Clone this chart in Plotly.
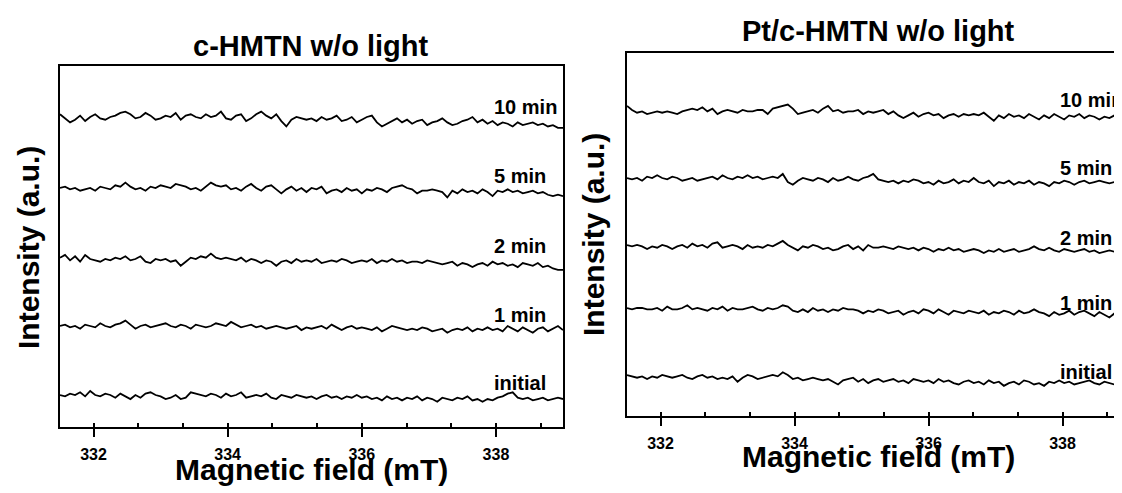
import numpy as np
import plotly.graph_objects as go

# ---------------- data ----------------
field = np.round(np.linspace(331.5, 339.0, 101), 4)  # magnetic field grid (mT)
labels = ["10 min", "5 min", "2 min", "1 min", "initial"]

# c-HMTN w/o light (deviations, a.u.)
c_10min = [2, -1, -4, -2, 1, -3, 0, 2, -1, -2,
           0, 1, 3, 4, 2, -1, 0, 3, 1, -2,
           -1, 1, 0, 3, -2, 1, 2, 0, -1, 2,
           0, 1, 4, -1, -2, 1, 2, -3, -1, 2,
           4, 1, -1, 2, -3, -7, -2, 0, -1, -2,
           -1, -3, 0, -2, -1, 1, -3, -2, 0, -4,
           -2, 0, 1, -4, -7, -5, -3, -1, -4, -2,
           -5, -3, -2, -6, -4, -3, -1, -4, -6, -5,
           -3, -2, 0, -4, -2, -5, -3, -6, -4, -5,
           -7, -4, -6, -5, -4, -6, -5, -7, -6, -8, -8]
c_5min = [0, 1, -1, 0, -2, -1, 0, -2, 1, 0,
          -1, 2, 1, 4, 1, -1, 0, -2, 1, 0,
          2, 1, 0, 3, 2, 1, -1, 0, -2, 1,
          4, 2, 1, 2, -1, 0, -2, 1, 3, 0,
          -2, 1, 2, -1, -4, -1, 1, -2, 0, -3,
          0, -1, 1, -4, -2, -1, -3, 0, -2, -1,
          -4, -1, -2, 0, -1, -3, 0, 1, 2, 0,
          -1, -4, -2, -2, -1, -2, -3, -7, -2, -4,
          -1, -3, -2, -4, -1, -3, -6, -2, -3, -1,
          -3, -2, -4, -3, -2, -4, -3, -5, -6, -5, -6]
c_2min = [1, 3, -1, 2, -2, 3, 0, -1, -2, 0,
          -1, 1, 0, 2, -1, 0, 2, -2, -3, 0,
          -1, 0, -2, -1, -5, -2, 1, 0, 2, 1,
          4, 1, 0, 1, 0, -1, 1, -2, 0, -1,
          -3, -1, -2, -5, -2, -1, -3, 0, -2, -1,
          -2, 0, -3, -2, -1, -2, 0, -1, -3, -2,
          -1, -2, 0, -3, -1, -2, 0, -2, -1, -3,
          -2, -2, -3, -1, -2, -3, -4, -3, -2, -5,
          -3, -4, -6, -4, -3, -5, -2, -4, -3, -5,
          -4, -6, -3, -4, -5, -3, -6, -5, -7, -8, -8]
c_1min = [0, 1, -1, 0, -2, 1, 0, -1, 2, 0,
          -1, 1, 2, 4, 1, -2, 0, 1, -1, 0,
          1, 2, 0, -1, 1, 0, -2, 1, 0, -1,
          0, 2, 1, 0, 3, 1, -1, 0, 1, -1,
          0, -2, -1, 0, -1, -2, -1, 0, -3, -1,
          -2, -1, 0, -2, 1, -1, -3, -1, 0, -2,
          -1, -2, -3, -1, -4, -2, 0, -1, -2, -3,
          -2, -3, -1, -2, -4, -3, -2, -5, -3, -2,
          -3, -1, -4, -2, -3, -1, -3, -2, -4, 0,
          -2, -4, -1, -3, -5, -2, -1, -4, -2, 0, -3]
c_initial = [0, -1, 1, 0, 2, -1, 3, 0, -1, 1,
             0, -2, 1, -1, -3, 0, -2, 1, 2, 0,
             -1, -3, -2, 0, -3, -2, 2, 1, 0, -1,
             1, 0, -2, 1, -1, 0, 2, -2, -1, 0,
             -1, 1, -2, -3, 0, -1, -2, 0, -1, -2,
             -1, -3, -1, 0, -2, -1, -3, -1, -2, 0,
             -2, -1, -3, -2, -4, -1, -3, -2, -4, -2,
             -3, -1, -4, -2, -3, -5, -2, -3, -4, -2,
             -3, -1, -4, -3, -5, -3, -4, -2, -1, 1,
             2, -2, -3, -2, -4, -3, -2, -4, -3, -2, -3]

# Pt/c-HMTN w/o light (deviations, a.u.)
pt_10min = [3, 0, -2, -1, -3, -2, -1, -2, -1, -2,
            -3, -1, 0, 1, 0, 2, -1, 1, -3, -1,
            0, -1, -2, 0, -1, -1, 0, 0, -3, 1,
            2, 3, 4, 1, -3, -2, -1, 0, -2, 1,
            3, -1, 0, -2, -1, -1, 0, -3, -1, -2,
            -1, 0, -3, -1, -4, -6, -4, -2, -5, -3,
            -2, -4, -3, -6, -4, -3, -5, -3, -4, -3,
            -4, -2, -5, -8, -4, -6, -3, -5, -4, -6,
            -3, -5, -7, -4, -6, -3, -5, -7, -4, -5,
            -3, -6, -4, -5, -7, -5, -6, -4, -6, -5, -6]
pt_5min = [0, -1, 0, -2, 1, 0, 2, 0, -1, 1,
           0, -2, -1, 0, -2, -1, 0, 1, -1, 2,
           0, -1, 1, 0, 2, 0, 1, -1, 0, 1,
           0, 3, -3, -5, -2, 0, -1, -2, 0, -1,
           -3, 0, -2, -1, 1, -1, -2, 0, 1, 3,
           -1, -2, -3, -2, -4, -2, -3, -1, -2, -4,
           -3, -5, -2, -4, -3, -1, -4, -2, -3, 0,
           -3, -4, -2, -6, -3, -4, -2, -5, -3, -4,
           -2, -5, -3, -4, -6, -3, -4, -2, -3, -5,
           -3, -2, -4, -3, -2, -3, -4, -3, -5, -6, -6]
pt_2min = [0, -1, 0, -1, -3, -1, -2, 0, -1, -3,
           -1, 0, -2, 1, -1, 0, -2, 1, 2, -2,
           -1, 0, -1, -3, 0, -2, -1, -2, 0, -1,
           1, 3, 0, -2, -4, -1, -2, 0, -1, -3,
           -2, -4, -3, -1, 0, -3, -1, -4, 0, -2,
           -2, -1, -2, -3, -1, -2, -3, -2, -4, -2,
           -3, -5, -3, -4, -2, -4, -3, -5, -4, -3,
           -4, -6, -4, -5, -3, -5, -4, -3, -5, -4,
           -3, -1, -3, -4, -2, -4, -5, -3, -4, -5,
           -4, -3, -5, -4, -6, -5, -4, -5, -6, -5, -6]
pt_1min = [0, -1, 0, 0, -1, -1, 0, -2, 1, -1,
           -1, 0, 2, -1, 0, -1, -2, 0, -1, 1,
           -2, 0, -1, -1, 0, 1, -1, -2, 0, -1,
           0, 2, 1, -2, -3, -1, -3, 0, -2, -1,
           -3, -1, -2, 0, -1, -1, -2, -4, -2, -3,
           -1, -2, -4, -3, -2, -5, -3, -2, -4, -1,
           -2, -4, -1, -3, -5, -2, -3, -4, -2, -3,
           -4, -2, -5, -3, -4, -2, -3, -5, -2, -4,
           -3, -1, -3, -4, -6, -3, -5, -4, -2, -5,
           -3, -2, -4, -6, -3, -5, -7, -4, -6, -5, -6]
pt_initial = [0, -1, -2, -1, -3, -1, -2, 0, -1, -2,
              -1, 0, -2, -3, -1, 0, -2, -1, -3, -2,
              -3, -1, -5, -2, 0, -1, -3, -2, -1, 0,
              -1, 2, 0, -3, -2, -4, -3, -2, -3, -4,
              -3, -5, -7, -4, -3, -2, -5, -3, -6, -4,
              -3, -5, -4, -3, -5, -4, -6, -3, -4, -5,
              -4, -6, -3, -5, -4, -6, -7, -5, -4, -6,
              -5, -7, -4, -6, -5, -8, -6, -5, -7, -4,
              -5, -7, -6, -8, -5, -6, -4, -6, -5, -7,
              -6, -5, -4, -6, -7, -5, -6, -7, -5, -6, -6]

c_series = [c_10min, c_5min, c_2min, c_1min, c_initial]
pt_series = [pt_10min, pt_5min, pt_2min, pt_1min, pt_initial]

# ---------------- layout geometry (screen pixels of the reference) ----------------
SH = 8                      # default page margin of the html body
W, H = 1122 - SH, 493 - SH  # figure fits the window exactly
UNIT = 1.35                 # screen pixels per intensity unit
FONT = "Arial, Liberation Sans, sans-serif"

def px_x(p):
    return (p - SH) / W

def px_y(p):
    return 1 - (p - SH) / H

# left panel box: x 60..563, y 66..427 ; right panel box: x 627..(1130), y 53..416
L_BOT, L_TOP = 427, 66
R_BOT, R_TOP = 416, 53
c_base_px = [117, 188, 259, 326, 395]      # screen y of the trace baselines
pt_base_px = [110, 178, 245, 308, 375]
c_label_px = [107, 176, 246, 315, 383]
pt_label_px = [100, 168, 238, 303, 372]
LABEL_X = 337.94

fig = go.Figure()
for vals, b in zip(c_series, c_base_px):
    off = (L_BOT - b) / UNIT
    fig.add_trace(go.Scatter(x=field, y=np.array(vals) + off, mode="lines",
                             line=dict(color="black", width=1.8),
                             xaxis="x", yaxis="y", showlegend=False))
for vals, b in zip(pt_series, pt_base_px):
    off = (R_BOT - b) / UNIT
    fig.add_trace(go.Scatter(x=field, y=np.array(vals) + off, mode="lines",
                             line=dict(color="black", width=1.8),
                             xaxis="x2", yaxis="y2", showlegend=False))

xcommon = dict(showline=True, linecolor="black", linewidth=2, mirror=True,
               showgrid=False, zeroline=False,
               ticks="outside", ticklen=8, tickwidth=2, tickcolor="black",
               tick0=332, dtick=2, ticklabelstandoff=4,
               tickfont=dict(family=FONT, size=16, color="black", weight="bold"),
               minor=dict(ticks="inside", ticklen=4, tickwidth=1.5,
                          tickcolor="black", tick0=332, dtick=2 / 3, showgrid=False))
ycommon = dict(showline=True, linecolor="black", linewidth=2,
               showgrid=False, zeroline=False, showticklabels=False, ticks="")

fig.update_layout(
    width=W, height=H,
    margin=dict(l=0, r=0, t=0, b=0),
    paper_bgcolor="white", plot_bgcolor="white",
    xaxis=dict(domain=[px_x(60), px_x(563)], range=[331.5, 339.0], anchor="y", **xcommon),
    yaxis=dict(domain=[px_y(L_BOT), px_y(L_TOP)], range=[0, (L_BOT - L_TOP) / UNIT],
               anchor="x", mirror=True, **ycommon),
    xaxis2=dict(domain=[px_x(627), 1.0], range=[331.5, 331.5 + (1122 - 627) / 67.0],
                anchor="y2", **xcommon),
    yaxis2=dict(domain=[px_y(R_BOT), px_y(R_TOP)], range=[0, (R_BOT - R_TOP) / UNIT],
                anchor="x2", mirror=False, **ycommon),
)

ann = []
big = dict(family=FONT, size=30, color="black", weight="bold")
ttl = dict(family=FONT, size=29, color="black", weight="bold")
lab = dict(family=FONT, size=20, color="black", weight="bold")

# panel titles
ann.append(dict(text="c-HMTN w/o light", x=px_x(311), y=px_y(46), xref="paper", yref="paper",
                showarrow=False, font=ttl, xanchor="center", yanchor="middle"))
ann.append(dict(text="Pt/c-HMTN w/o light", x=px_x(878), y=px_y(31), xref="paper", yref="paper",
                showarrow=False, font=ttl, xanchor="center", yanchor="middle"))
# axis titles
ann.append(dict(text="Magnetic field (mT)", x=px_x(311), y=px_y(469), xref="paper", yref="paper",
                showarrow=False, font=big, xanchor="center", yanchor="middle"))
ann.append(dict(text="Magnetic field (mT)", x=px_x(878), y=px_y(456), xref="paper", yref="paper",
                showarrow=False, font=big, xanchor="center", yanchor="middle"))
ann.append(dict(text="Intensity (a.u.)", x=px_x(28), y=px_y(248), xref="paper", yref="paper",
                showarrow=False, font=big, textangle=-90, xanchor="center", yanchor="middle"))
ann.append(dict(text="Intensity (a.u.)", x=px_x(593), y=px_y(235), xref="paper", yref="paper",
                showarrow=False, font=big, textangle=-90, xanchor="center", yanchor="middle"))

# trace labels
for t, yy in zip(labels, c_label_px):
    ann.append(dict(text=t, x=LABEL_X, y=(L_BOT - yy) / UNIT, xref="x", yref="y", showarrow=False,
                    font=lab, xanchor="left", yanchor="middle"))
for t, yy in zip(labels, pt_label_px):
    ann.append(dict(text=t, x=LABEL_X, y=(R_BOT - yy) / UNIT, xref="x2", yref="y2", showarrow=False,
                    font=lab, xanchor="left", yanchor="middle"))

fig.update_layout(annotations=ann)
fig.write_html("out.html")
